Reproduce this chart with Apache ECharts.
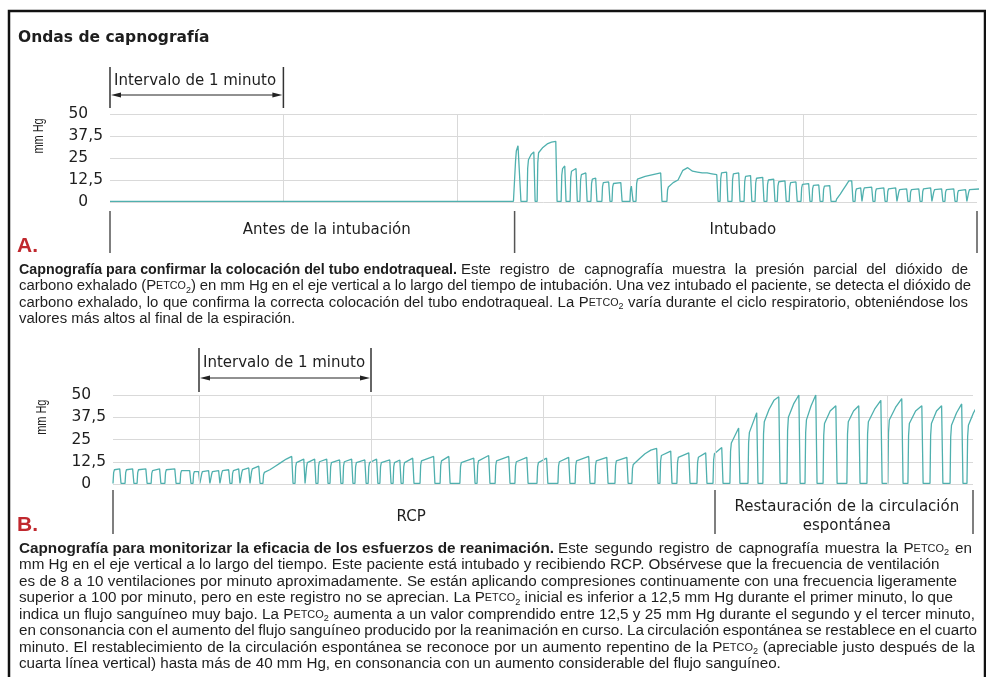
<!DOCTYPE html>
<html>
<head>
<meta charset="utf-8">
<script src="https://cdn.jsdelivr.net/npm/echarts@6/dist/echarts.min.js"></script>
<style>
  html, body { margin: 0; background: #fff; }
  #chart { width: 986px; height: 677px; }
</style>
</head>
<body>
<div id="chart"></div>
<script>
// ---- data (time in seconds, PETCO2 in mm Hg) ----
const yTicks = [0, 12.5, 25, 37.5, 50];

// flat trace before intubation
const preIntubationA = [[0, 0.3], [60, 0.4], [120, 0.3], [139.6, 0.4]];
// each breath: [start, end, plateau values...]
const breathsA = [
  [140.1, 142.2, 29, 32, 31],
  [144.3, 147.1, 24, 27, 28.5],
  [147.8, 154.7, 28, 31, 33, 34, 34.5],
  [156.1, 157.8, 19, 20.5],
  [159.2, 161.7, 17.5, 19],
  [162.6, 165.1, 15.5, 16.5],
  [166.4, 168.5, 13, 13.6],
  [170.2, 173.0, 11, 11.4],
  [173.7, 177.2, 10.5, 11],
  [179.9, 181.0, 9, 10],
  [182.0, 191.0, 13, 14.5, 15.5, 16.5],
  [192.7, 210.4, 8.5, 11, 12.5, 18, 19.5, 17.5, 17, 16.5, 16.5, 16, 15.5],
  [211.1, 213.8, 16.5, 17],
  [215.2, 218.0, 16, 16.5],
  [219.4, 222.1, 14.5, 15],
  [223.2, 226.3, 13.5, 14],
  [227.3, 230.1, 12.5, 13],
  [230.9, 234.0, 11.5, 12],
  [235.0, 237.8, 11, 11.4],
  [239.1, 242.2, 10, 10.5],
  [242.9, 245.7, 9.5, 9.7],
  [246.7, 249.5, 9, 9.3],
  [251.2, 257.1, 2, 4.5, 7, 9.5, 12, 12],
  [257.8, 260.2, 7.5, 8],
  [260.5, 264.0, 8, 8.5],
  [264.7, 268.2, 7.5, 8],
  [268.9, 272.3, 7.5, 8],
  [272.7, 276.1, 7, 7.5],
  [276.8, 280.3, 7, 7.5],
  [281.0, 284.4, 7.5, 8],
  [284.8, 288.2, 7, 7.5],
  [288.9, 292.4, 7, 7.5],
  [293.1, 296.5, 6.5, 7],
  [296.9, 302.0, 7, 7.5]
];
const breathsB = [
  [0.0, 2.8, 8, 8.5], [4.2, 7.3, 8, 8.5], [8.4, 11.9, 8, 8.5], [13.3, 16.7, 7.5, 8.5],
  [18.1, 22.0, 8, 8.5], [23.4, 27.2, 7.5, 7.5], [27.9, 30.3, 7, 7], [30.7, 33.8, 7, 7.5],
  [34.2, 37.3, 7, 7.5], [37.7, 40.8, 7.5, 8], [41.5, 44.3, 7.5, 8.5], [44.7, 47.8, 8, 9],
  [48.1, 51.3, 8.5, 10],
  [52.3, 62.8, 6.5, 8, 10, 12, 14, 15.5],
  [63.5, 67.0, 12, 14], [67.3, 70.8, 12, 14], [71.5, 75.0, 12.5, 14], [75.7, 79.5, 12, 13.5],
  [80.2, 83.7, 12.5, 14], [84.4, 88.3, 12, 13.5], [89.0, 92.4, 12, 14], [93.1, 97.0, 12, 13.5],
  [97.7, 100.5, 12, 13.5], [101.2, 105.0, 12, 14.5], [107.1, 112.3, 13, 15.5], [114.1, 117.6, 13, 15.5],
  [121.0, 126.3, 12, 14.5], [127.0, 131.5, 13, 16], [133.3, 138.5, 13, 15.5], [140.2, 144.8, 12.5, 15],
  [147.9, 151.7, 12, 14.5], [155.2, 159.4, 12.5, 15], [161.2, 166.4, 13, 15.5], [168.1, 172.7, 13, 15],
  [175.1, 179.7, 13, 15],
  [181.0, 190.1, 11, 14, 17, 19, 20],
  [190.8, 195.0, 16, 18.5], [196.7, 201.3, 15, 17.5], [203.7, 207.2, 15, 17.5], [209.3, 212.8, 17, 20.5],
  [215.2, 218.7, 23, 31.5],
  [221.5, 225.0, 29, 40],
  [226.7, 232.7, 35, 42, 47, 49],
  [235.1, 239.7, 37.5, 45, 50],
  [241.4, 245.6, 36, 44, 50],
  [247.7, 252.6, 34, 41, 44],
  [256.0, 260.6, 35, 41, 44],
  [263.0, 268.3, 35, 42, 47],
  [270.3, 275.6, 36, 43, 48],
  [277.3, 282.6, 34, 41, 44],
  [285.0, 289.5, 34, 41, 44],
  [292.0, 296.5, 33, 40, 45],
  [297.9, 302.4, 33, 40, 45]
];

const minuteLinesB = [30, 90, 150, 210, 270];
const bracketA = [0, 60];
const bracketB = [30, 90];
const sectionBoundsA = [0, 140, 300];
const sectionLabelsA = ['Antes de la intubación', 'Intubado'];
const sectionBoundsB = [0, 210, 300];
const sectionLabelsB = ['RCP', 'Restauración de la circulación\nespontánea'];

// caption lines: [bold part, normal part]; § = PETCO2
const captionA = [
  ['Capnografía para confirmar la colocación del tubo endotraqueal.', 'Este registro de capnografía muestra la presión parcial del dióxido de'],
  ['', 'carbono exhalado (§) en mm Hg en el eje vertical a lo largo del tiempo de intubación. Una vez intubado el paciente, se detecta el dióxido de'],
  ['', 'carbono exhalado, lo que confirma la correcta colocación del tubo endotraqueal. La § varía durante el ciclo respiratorio, obteniéndose los'],
  ['', 'valores más altos al final de la espiración.']
];
const captionB = [
  ['Capnografía para monitorizar la eficacia de los esfuerzos de reanimación.', 'Este segundo registro de capnografía muestra la § en'],
  ['', 'mm Hg en el eje vertical a lo largo del tiempo. Este paciente está intubado y recibiendo RCP. Obsérvese que la frecuencia de ventilación'],
  ['', 'es de 8 a 10 ventilaciones por minuto aproximadamente. Se están aplicando compresiones continuamente con una frecuencia ligeramente'],
  ['', 'superior a 100 por minuto, pero en este registro no se aprecian. La § inicial es inferior a 12,5 mm Hg durante el primer minuto, lo que'],
  ['', 'indica un flujo sanguíneo muy bajo. La § aumenta a un valor comprendido entre 12,5 y 25 mm Hg durante el segundo y el tercer minuto,'],
  ['', 'en consonancia con el aumento del flujo sanguíneo producido por la reanimación en curso. La circulación espontánea se restablece en el cuarto'],
  ['', 'minuto. El restablecimiento de la circulación espontánea se reconoce por un aumento repentino de la § (apreciable justo después de la'],
  ['', 'cuarta línea vertical) hasta más de 40 mm Hg, en consonancia con un aumento considerable del flujo sanguíneo.']
];

// ---- layout / styles ----
const UI = '"DejaVu Sans", sans-serif';
const TXT = '"Liberation Sans", Arial, sans-serif';
const TRACE = '#4fb0ae';
const GRIDC = '#d9d9d9';
const INK = '#1e1e1e';
const CAP_LEFT = 19;
const captionRightA = [968, 971, 968, 328];
const captionFitA = [true, true, true, false];
const captionRightB = [972, 857, 957, 953, 975, 977, 975, 748];
const captionFitB = [true, false, true, true, true, true, true, false];
const boldEndA = 457, boldEndB = 554;
const labelCentersA = [75, 219];
const labelCentersB = [104, 256];

function buildTrace(start, breaths) {
  const pts = start.slice();
  const rise = 0.5, fall = 0.45;
  breaths.forEach(b => {
    const t0 = b[0], t1 = b[1], vals = b.slice(2);
    const a = t0 + rise, z = t1 - fall;
    pts.push([t0, 0.3]);
    pts.push([t0 + rise * 0.45, vals[0] * 0.8]);
    vals.forEach((v, i) => {
      const f = vals.length === 1 ? 0 : i / (vals.length - 1);
      pts.push([a + (z - a) * f, v]);
    });
    pts.push([t1, 0.3]);
  });
  return pts;
}

const yAxisBase = (g) => ({
  gridIndex: g, type: 'value', min: yTicks[0], max: yTicks[yTicks.length - 1], interval: yTicks[1] - yTicks[0],
  axisLine: { show: false }, axisTick: { show: false },
  axisLabel: { color: INK, fontSize: 15.5, fontFamily: UI, margin: 7,
    // align on the decimal comma
    formatter: v => Number.isInteger(v) ? v + '{h|,5}' : String(v).replace('.', ','),
    rich: { h: { color: 'transparent', fontSize: 15.5, fontFamily: UI } } },
  splitLine: { lineStyle: { color: GRIDC, width: 1 } }
});

const chart = echarts.init(document.getElementById('chart'));
chart.setOption({
  animation: false,
  backgroundColor: '#fff',
  grid: [
    { left: 110, right: 9, top: 114, height: 88 },
    { left: 113, right: 13, top: 395, height: 89 }
  ],
  xAxis: [
    { gridIndex: 0, type: 'value', min: 0, max: 300, interval: 60,
      axisLine: { show: false }, axisTick: { show: false }, axisLabel: { show: false },
      splitLine: { show: true, showMinLine: false, showMaxLine: false, lineStyle: { color: GRIDC, width: 1 } } },
    { gridIndex: 1, type: 'value', min: 0, max: 300, interval: 60,
      axisLine: { show: false }, axisTick: { show: false }, axisLabel: { show: false },
      splitLine: { show: false } }
  ],
  yAxis: [yAxisBase(0), yAxisBase(1)],
  series: [
    { type: 'line', xAxisIndex: 0, yAxisIndex: 0, showSymbol: false, silent: true,
      data: buildTrace(preIntubationA, breathsA),
      lineStyle: { color: TRACE, width: 1.3 } },
    { type: 'line', xAxisIndex: 1, yAxisIndex: 1, showSymbol: false, silent: true,
      data: buildTrace([], breathsB),
      lineStyle: { color: TRACE, width: 1.3 },
      markLine: { silent: true, symbol: 'none', label: { show: false },
        lineStyle: { color: GRIDC, type: 'solid', width: 1 },
        data: minuteLinesB.map(t => ({ xAxis: t })) } }
  ]
});

// ---- annotations ----
const px = (g, t, v) => chart.convertToPixel({ gridIndex: g }, [t, v]);
const els = [];

els.push({ type: 'rect', shape: { x: 9, y: 11, width: 976, height: 720 },
  style: { fill: 'none', stroke: '#111', lineWidth: 2.5 }, z: 100 });
els.push({ type: 'text', x: 18, y: 38,
  style: { text: 'Ondas de capnografía', font: 'bold 15.5px ' + UI, fill: INK, verticalAlign: 'middle' } });

function line(x1, y1, x2, y2, color, w) {
  els.push({ type: 'line', shape: { x1, y1, x2, y2 }, style: { stroke: color, lineWidth: w } });
}
function bracket(g, range, yTop, yText, yArrow, yBot) {
  const xa = px(g, range[0], 0)[0], xb = px(g, range[1], 0)[0];
  line(xa, yTop, xa, yBot, '#333', 1.5);
  line(xb, yTop, xb, yBot, '#333', 1.5);
  els.push({ type: 'text', x: xa + 4, y: yText,
    style: { text: 'Intervalo de 1 minuto', font: '15px ' + UI, fill: INK, verticalAlign: 'middle' } });
  line(xa + 6, yArrow, xb - 6, yArrow, '#222', 1);
  els.push({ type: 'polygon', shape: { points: [[xa + 1, yArrow], [xa + 11, yArrow - 2.5], [xa + 11, yArrow + 2.5]] }, style: { fill: '#222' } });
  els.push({ type: 'polygon', shape: { points: [[xb - 1, yArrow], [xb - 11, yArrow - 2.5], [xb - 11, yArrow + 2.5]] }, style: { fill: '#222' } });
}
bracket(0, bracketA, 67, 81, 95, 108);
bracket(1, bracketB, 348, 363, 378, 392);

function sections(g, bounds, labels, centers, yTop, yBot, yLabel) {
  bounds.forEach(t => { const x = px(g, t, 0)[0]; line(x, yTop, x, yBot, '#555', 1.5); });
  labels.forEach((lab, i) => {
    els.push({ type: 'text', x: px(g, centers[i], 0)[0], y: yLabel,
      style: { text: lab, font: '15px ' + UI, fill: INK, align: 'center', verticalAlign: 'middle', lineHeight: 19 } });
  });
}
sections(0, sectionBoundsA, sectionLabelsA, labelCentersA, 211, 253, 230);
sections(1, sectionBoundsB, sectionLabelsB, labelCentersB, 490, 534, 517);

// y-axis titles
[0, 1].forEach(g => {
  const p = px(g, 0, 37.5);
  els.push({ type: 'text', x: p[0] - 71, y: p[1], rotation: Math.PI / 2, scaleX: 0.78,
    style: { text: 'mm Hg', font: '14px ' + TXT, fill: INK, align: 'center', verticalAlign: 'middle' } });
});

els.push({ type: 'text', x: 17, y: 246, style: { text: 'A.', font: 'bold 21px ' + TXT, fill: '#c0282e', verticalAlign: 'middle' } });
els.push({ type: 'text', x: 17, y: 525, style: { text: 'B.', font: 'bold 21px ' + TXT, fill: '#c0282e', verticalAlign: 'middle' } });

// captions: uniform glyph scale, full lines justified with word gaps
const CS = 14;
const rich = {
  b: { fontSize: CS, fontWeight: 'bold', fontFamily: TXT, fill: INK, lineHeight: 16 },
  n: { fontSize: CS, fontFamily: TXT, fill: INK, lineHeight: 16 },
  sc: { fontSize: CS * 0.72, fontFamily: TXT, fill: INK, lineHeight: 16 },
  sub: { fontSize: CS * 0.6, fontFamily: TXT, fill: INK, lineHeight: 16, verticalAlign: 'bottom' }
};
const ctx = document.createElement('canvas').getContext('2d');
function fontOf(k) {
  const s = rich[k === 'g' ? 'n' : k];
  return (s.fontWeight || 'normal') + ' ' + s.fontSize + 'px ' + TXT;
}
function tokens(s, bold) {
  if (bold) return [['b', s]];
  const raw = [];
  s.split('§').forEach((part, i) => {
    if (i > 0) raw.push(['n', 'P'], ['sc', 'ETCO'], ['sub', '2']);
    if (part) raw.push(['n', part]);
  });
  const out = [];
  raw.forEach(([k, t]) => {
    if (k !== 'n') { out.push([k, t]); return; }
    t.split(' ').forEach((w, i) => {
      if (i > 0) out.push(['g', ' ']);
      if (w) out.push(['n', w]);
    });
  });
  return out;
}
function measure(tk) {
  let w = 0;
  tk.forEach(([k, t]) => { ctx.font = fontOf(k); w += ctx.measureText(t).width; });
  return w;
}
ctx.font = fontOf('n');
const SPACE_W = ctx.measureText(' ').width;
function textEl(tk, x, y, sx, gapW) {
  const r = Object.assign({}, rich, { g: Object.assign({}, rich.n, { width: gapW }) });
  els.push({ type: 'text', x, y, scaleX: sx,
    style: { text: tk.map(([k, t]) => '{' + k + '|' + t + '}').join(''), rich: r,
      fill: INK, verticalAlign: 'middle', align: 'left' } });
}
function caption(lines, rights, fit, boldEnd, y0) {
  const parts = lines.map((l, i) => {
    const tk = tokens(l[1], false);
    const start = l[0] ? boldEnd + 4 : CAP_LEFT;
    const w = measure(tk);
    return { tk, start, w, sx: (rights[i] - start) / w, gaps: tk.filter(t => t[0] === 'g').length };
  });
  const plain = parts.filter((p, i) => fit[i] && !lines[i][0]);
  const avg = plain.reduce((s, p) => s + p.sx, 0) / plain.length;
  lines.forEach((l, i) => {
    const y = y0 + i * 16.5;
    const p = parts[i];
    if (l[0]) {
      const tb = tokens(l[0], true);
      textEl(tb, CAP_LEFT, y, (boldEnd - CAP_LEFT) / measure(tb), SPACE_W);
    }
    let gapW = SPACE_W;
    if (fit[i] && p.gaps) {
      const extra = (rights[i] - p.start) / avg - p.w;
      gapW = Math.max(SPACE_W * 0.6, SPACE_W + extra / p.gaps);
    }
    textEl(p.tk, p.start, y, avg, gapW);
  });
}
caption(captionA, captionRightA, captionFitA, boldEndA, 270);
caption(captionB, captionRightB, captionFitB, boldEndB, 549);

chart.setOption({ graphic: els });
</script>
</body>
</html>
